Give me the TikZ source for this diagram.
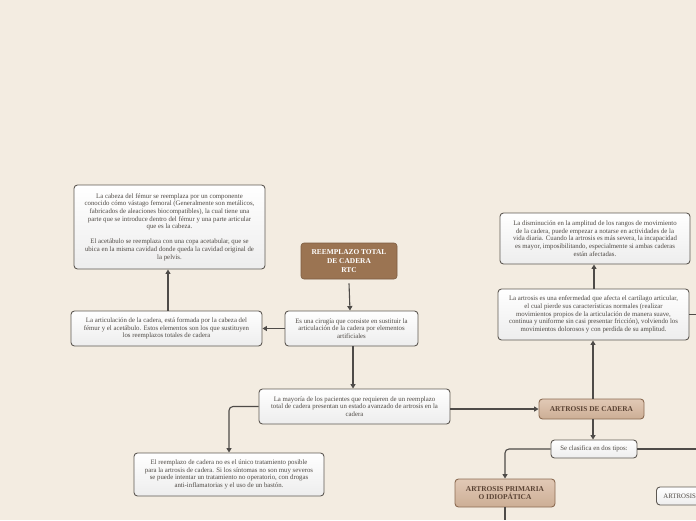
\documentclass[tikz,border=0pt]{standalone}
\usepackage{fontspec}
\setmainfont{Liberation Serif}
\usetikzlibrary{arrows.meta,shadows}
\definecolor{bg}{HTML}{F3ECE1}
\definecolor{bordc}{HTML}{5E5953}
\definecolor{txtc}{HTML}{4F4A45}
\definecolor{titlec}{HTML}{9B7452}
\definecolor{tanc}{HTML}{D7B79D}
\definecolor{tanbord}{HTML}{8B6B52}
\definecolor{tantxt}{HTML}{5A4334}
\definecolor{linec}{HTML}{4E4B48}
\tikzset{
  textbox/.style={draw=bordc, line width=0.9pt, rounded corners=3.5pt,
    top color=white, bottom color=gray!14, text=txtc, align=center,
    inner sep=0pt, font=\fontsize{6.8}{7.6}\selectfont},
  titlebox/.style={draw=titlec!80!black, line width=0.6pt, rounded corners=3pt, fill=titlec,
    text=white, align=center, inner sep=0pt, font=\fontsize{7.4}{8.6}\selectfont\bfseries},
  tanbox/.style={draw=tanbord, line width=0.9pt, rounded corners=3.5pt,
    top color=tanc!75!white, bottom color=tanc!95!black, text=tantxt, align=center,
    inner sep=0pt, font=\fontsize{7.4}{8.6}\selectfont\bfseries},
  conn/.style={draw=linec, line width=1.1pt, rounded corners=4pt},
  arr/.style={conn, -{Triangle[length=4.5pt,width=5pt]}},
}
\begin{document}
\begin{tikzpicture}[x=1pt,y=-1pt]
\fill[bg] (0,0) rectangle (696,520);
\useasboundingbox (0,0) rectangle (696,520);
\clip (0,0) rectangle (696,520);

\node[textbox, minimum width=191pt, minimum height=84pt] (cabeza) at (169.5,227)
 {La cabeza del fémur se reemplaza por un componente\\
  conocido cómo vástago femoral (Generalmente son metálicos,\\
  fabricados de aleaciones biocompatibles), la cual tiene una\\
  parte que se introduce dentro del fémur y una parte articular\\
  que es la cabeza.\\[7.6pt]
  El acetábulo se reemplaza con una copa acetabular, que se\\
  ubica en la misma cavidad donde queda la cavidad original de\\
  la pelvis.};

\node[titlebox, minimum width=96pt, minimum height=36pt] (title) at (349,261)
 {REEMPLAZO TOTAL\\DE CADERA\\RTC};

\node[textbox, minimum width=191pt, minimum height=35pt] (artic) at (166.5,328.5)
 {La articulación de la cadera, está formada por la cabeza del\\
  fémur y el acetábulo. Estos elementos son los que sustituyen\\
  los reemplazos totales de cadera};

\node[textbox, minimum width=133pt, minimum height=35pt] (cirugia) at (351.5,328.5)
 {Es una cirugía que consiste en sustituir la\\
  articulación de la cadera por elementos\\
  artificiales};

\node[textbox, minimum width=191pt, minimum height=35pt] (mayoria) at (354.5,406.5)
 {La mayoría de los pacientes que requieren de un reemplazo\\
  total de cadera presentan un estado avanzado de artrosis en la\\
  cadera};

\node[textbox, minimum width=190pt, minimum height=43pt] (unico) at (229,474.5)
 {El reemplazo de cadera no es el único tratamiento posible\\
  para la artrosis de cadera. Si los síntomas no son muy severos\\
  se puede intentar un tratamiento no operatorio, con drogas\\
  anti-inflamatorias y el uso de un bastón.};

\node[textbox, minimum width=190pt, minimum height=51pt] (dismin) at (595,238.5)
 {La disminución en la amplitud de los rangos de movimiento\\
  de la cadera, puede empezar a notarse en actividades de la\\
  vida diaria. Cuando la artrosis es más severa, la incapacidad\\
  es mayor, imposibilitando, especialmente si ambas caderas\\
  están afectadas.};

\node[textbox, minimum width=191pt, minimum height=51pt] (enferm) at (593.5,314.5)
 {La artrosis es una enfermedad que afecta el cartílago articular,\\
  el cual pierde sus características normales (realizar\\
  movimientos propios de la articulación de manera suave,\\
  continua y uniforme sin casi presentar fricción), volviendo los\\
  movimientos dolorosos y con perdida de su amplitud.};

\node[tanbox, minimum width=105pt, minimum height=20pt] (artcad) at (591.5,409)
 {ARTROSIS DE CADERA};

\node[textbox, minimum width=86pt, minimum height=18pt] (clasif) at (594,449)
 {Se clasifica en dos tipos:};

\node[tanbox, minimum width=100pt, minimum height=28pt] (prim) at (505,493)
 {ARTROSIS PRIMARIA\\O IDIOPÁTICA};

\node[textbox, minimum width=70pt, minimum height=18pt, anchor=west, align=left,
  text width=62pt, inner xsep=7pt] (sec) at (656,496) {ARTROSIS};

\coordinate (eR) at (696,314.5);
\coordinate (cR) at (696,449);
\coordinate (pB) at (505,520);

% connectors
\draw[arr] (title.south) ++(0,4) -- (cirugia.north -| 350,0);
\draw[arr] (cirugia.west) -- (artic.east);
\draw[arr] (artic.north -| 168,0) -- (cabeza.south -| 168,0);
\draw[arr] (cirugia.south -| 353,0) -- (mayoria.north -| 353,0);
\draw[arr] (mayoria.west) -| (unico.north);
\draw[arr] (mayoria.east |- artcad.west) -- (artcad.west);
\draw[arr] (artcad.north -| 593,0) -- (enferm.south -| 593,0);
\draw[arr] (enferm.north -| 594,0) -- (dismin.south -| 594,0);
\draw[conn] (enferm.east) -- (eR);
\draw[arr] (artcad.south -| 593,0) -- (clasif.north -| 593,0);
\draw[arr] (clasif.west) -| (prim.north);
\draw[conn] (clasif.east) -- (cR);
\draw[conn] (prim.south) -- (pB);
\end{tikzpicture}
\end{document}
